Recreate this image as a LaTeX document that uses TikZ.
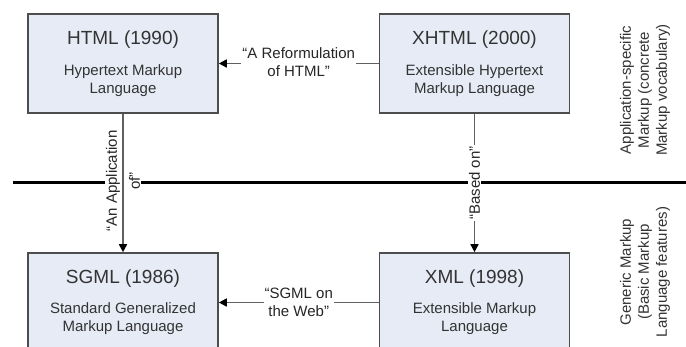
\documentclass[tikz,border=0pt]{standalone}
\usepackage{fontspec}
\setmainfont{Liberation Sans}
\usetikzlibrary{arrows.meta}
\definecolor{boxfill}{HTML}{E6EBF5}
\definecolor{boxline}{HTML}{4D4D4D}
\definecolor{txt}{HTML}{333333}
\definecolor{arr}{HTML}{606060}
\begin{document}
\begin{tikzpicture}[x=1pt,y=-1pt,
  box/.style={draw=boxline,line width=1.6pt,fill=boxfill,minimum width=190pt,minimum height=99pt,inner sep=0pt},
  ttl/.style={font=\fontsize{19}{22}\selectfont,text=txt},
  sub/.style={font=\fontsize{15}{18}\selectfont,text=txt,align=center},
  lbl/.style={font=\fontsize{15}{18}\selectfont,text=black!85,align=center,fill=white,inner sep=1pt},
  side/.style={font=\fontsize{15}{18}\selectfont,text=txt,align=center,rotate=90},
  conn/.style={draw=arr,line width=1.6pt,-{Triangle[length=8pt,width=8pt,black]}},
  divider/.style={draw=black,line width=3pt}
]
\useasboundingbox (0,0) rectangle (686,347);
\clip (0,0) rectangle (686,347);
% divider
\coordinate (dl) at (13,183);
\coordinate (dr) at (690,183);
\draw[divider] (dl) -- (dr);
% boxes
\node[box] (html) at (123,63.5) {};
\node[box] (xhtml) at (474.5,63.5) {};
\node[box] (sgml) at (123,302.5) {};
\node[box] (xml) at (474.5,302.5) {};
% box texts
\node[ttl] (htmlT) at (123,40) {HTML (1990)};
\node[sub] (htmlS) at (123,81) {Hypertext Markup\\Language};
\node[ttl] (xhtmlT) at (474.5,40) {XHTML (2000)};
\node[sub] (xhtmlS) at (474.5,81) {Extensible Hypertext\\Markup Language};
\node[ttl] (sgmlT) at (123,279) {SGML (1986)};
\node[sub] (sgmlS) at (123,319) {Standard Generalized\\Markup Language};
\node[ttl] (xmlT) at (474.5,279) {XML (1998)};
\node[sub] (xmlS) at (474.5,319) {Extensible Markup\\Language};
% connectors
\draw[conn] (xhtml.west) -- (html.east)
  node[lbl,midway,yshift=1.5pt] (reform) {“A Reformulation\\of HTML”};
\draw[conn] (xml.west) -- (sgml.east)
  node[lbl,midway] (web) {“SGML on\\the Web”};
\draw[conn] (xhtml.south) -- (xml.north);
\node[lbl,rotate=90] (based) at (474.5,183) {“Based on”};
\node[lbl,rotate=90,font=\fontsize{15}{23}\selectfont] (appof) at (123,181) {“An Application\\of”};
\draw[conn] (html.south) -- (sgml.north);
% side labels
\node[side] (appl) at (645,90) {Application-specific\\Markup (concrete\\Markup vocabulary)};
\node[side] (gen) at (645,272) {Generic Markup\\(Basic Markup\\Language features)};
\end{tikzpicture}
\end{document}
